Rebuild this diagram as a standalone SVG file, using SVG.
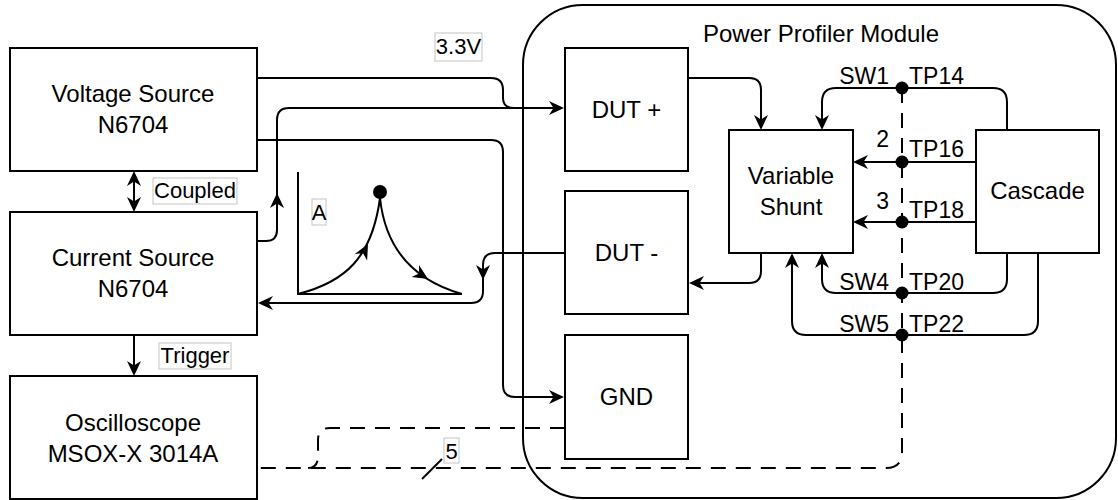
<svg xmlns="http://www.w3.org/2000/svg" xmlns:xlink="http://www.w3.org/1999/xlink" width="1118" height="500" viewBox="0 0 1118 500">
<style>
text{font-family:"Liberation Sans",Arial,sans-serif;fill:#000}
.box{fill:#fff;stroke:#000;stroke-width:2}
.t{font-size:24px;text-anchor:middle}
.lbl{font-size:23px}
.sm{font-size:22px;text-anchor:middle}
.lb{fill:#fff;stroke:#c4c4c4;stroke-width:1}
.ln{fill:none;stroke:#000;stroke-width:2}
.dash{fill:none;stroke:#000;stroke-width:2;stroke-dasharray:15 10}
</style>
<defs>
<path id="ah" d="M0,0 L-15,-7 L-10.5,0 L-15,7 Z" fill="#000"/>
</defs>
<rect width="1118" height="500" fill="#fff"/>

<g id="power-profiler-module">
<rect x="523" y="5" width="593" height="493" rx="60" ry="60" fill="none" stroke="#000" stroke-width="2"/>
<text class="t" x="821" y="42">Power Profiler Module</text>
</g>

<g id="voltage-source">
<rect class="box" x="10" y="48" width="247" height="123"/>
<text class="t" x="133" y="102">Voltage Source</text>
<text class="t" x="133" y="133">N6704</text>
</g>
<g id="current-source">
<rect class="box" x="10" y="212" width="247" height="123"/>
<text class="t" x="133" y="266">Current Source</text>
<text class="t" x="133" y="297">N6704</text>
</g>
<g id="oscilloscope">
<rect class="box" x="10" y="376" width="247" height="123"/>
<text class="t" x="133" y="431">Oscilloscope</text>
<text class="t" x="133" y="462">MSOX-X 3014A</text>
</g>
<g id="dut-plus">
<rect class="box" x="565" y="48" width="123" height="123"/>
<text class="t" x="626.5" y="118">DUT +</text>
</g>
<g id="dut-minus">
<rect class="box" x="565" y="191" width="123" height="123"/>
<text class="t" x="626.5" y="261">DUT -</text>
</g>
<g id="gnd">
<rect class="box" x="565" y="335" width="123" height="124"/>
<text class="t" x="626.5" y="405">GND</text>
</g>
<g id="variable-shunt">
<rect class="box" x="729" y="130" width="124" height="123"/>
<text class="t" x="791" y="184">Variable</text>
<text class="t" x="791" y="215">Shunt</text>
</g>
<g id="cascade">
<rect class="box" x="976" y="130" width="123" height="123"/>
<text class="t" x="1037.5" y="199">Cascade</text>
</g>

<g id="graph">
<path class="ln" d="M298,172 V294 H462"/>
<path class="ln" d="M298,294 C345,282 372,258 380,198"/>
<path class="ln" d="M380,198 C386,255 420,282 462,294"/>
<circle cx="380" cy="192" r="7" fill="#000"/>
<use xlink:href="#ah" transform="translate(368,244) rotate(-62)"/>
<use xlink:href="#ah" transform="translate(428,279) rotate(32)"/>
<rect class="lb" x="312" y="199" width="14" height="26"/>
<text class="sm" x="319" y="220">A</text>
</g>

<g id="connectors">
<!-- coupled -->
<path class="ln" d="M134,173 V210"/>
<use xlink:href="#ah" transform="translate(134,171) rotate(-90)"/>
<use xlink:href="#ah" transform="translate(134,212) rotate(90)"/>
<rect class="lb" x="153" y="178" width="84" height="26"/>
<text class="sm" x="195" y="198">Coupled</text>
<!-- trigger -->
<path class="ln" d="M134,335 V372"/>
<use xlink:href="#ah" transform="translate(134,376) rotate(90)"/>
<rect class="lb" x="159" y="343" width="72" height="26"/>
<text class="sm" x="195" y="363">Trigger</text>
<!-- voltage 3.3V to DUT+ -->
<path class="ln" d="M257,78 H491 Q503,78 503,90 V98 Q503,108 514,108"/>
<rect class="lb" x="435" y="33" width="47" height="28"/>
<text class="sm" x="458.5" y="54">3.3V</text>
<!-- current source to DUT+ -->
<path class="ln" d="M257,241 H266 Q277,241 277,230 V120 Q277,108 289,108 H560"/>
<use xlink:href="#ah" transform="translate(277,193) rotate(-90)"/>
<use xlink:href="#ah" transform="translate(564,108)"/>
<!-- voltage to GND -->
<path class="ln" d="M257,140 H491 Q503,140 503,152 V385 Q503,397 515,397 H560"/>
<use xlink:href="#ah" transform="translate(564,397)"/>
<!-- DUT- to current source -->
<path class="ln" d="M565,253 H495 Q483,253 483,265 V291 Q483,303 471,303 H262"/>
<use xlink:href="#ah" transform="translate(483,280) rotate(90)"/>
<use xlink:href="#ah" transform="translate(258,303) rotate(180)"/>
<!-- DUT+ to shunt -->
<path class="ln" d="M688,78 H749 Q761,78 761,90 V126"/>
<use xlink:href="#ah" transform="translate(761,130) rotate(90)"/>
<!-- SW1 -->
<path class="ln" d="M1007,130 V102 Q1007,88 993,88 H836 Q822,88 822,102 V126"/>
<use xlink:href="#ah" transform="translate(822,130) rotate(90)"/>
<!-- TP16 -->
<path class="ln" d="M976,162 H857"/>
<use xlink:href="#ah" transform="translate(853,162) rotate(180)"/>
<!-- TP18 -->
<path class="ln" d="M976,222 H857"/>
<use xlink:href="#ah" transform="translate(853,222) rotate(180)"/>
<!-- shunt to DUT- -->
<path class="ln" d="M761,253 V271 Q761,283 749,283 H693"/>
<use xlink:href="#ah" transform="translate(689,283) rotate(180)"/>
<!-- SW4 -->
<path class="ln" d="M1007,253 V279 Q1007,293 993,293 H836 Q822,293 822,279 V257"/>
<use xlink:href="#ah" transform="translate(822,253) rotate(-90)"/>
<!-- SW5 -->
<path class="ln" d="M1038,253 V321 Q1038,335 1024,335 H806 Q792,335 792,321 V257"/>
<use xlink:href="#ah" transform="translate(792,253) rotate(-90)"/>
<!-- dashed bus -->
<path class="dash" d="M902,88 V452 Q902,468 886,468 H257"/>
<path class="dash" d="M565,428 H330 Q318,428 318,440 V456 Q318,468 308,468"/>
<path class="ln" d="M422,479 L442,459"/>
<rect class="lb" x="444" y="438" width="15" height="25"/>
<text class="sm" x="451.5" y="459">5</text>
<!-- junction dots -->
<circle cx="902" cy="88" r="6.5" fill="#000"/>
<circle cx="902" cy="162" r="6.5" fill="#000"/>
<circle cx="902" cy="222" r="6.5" fill="#000"/>
<circle cx="902" cy="293" r="6.5" fill="#000"/>
<circle cx="902" cy="335" r="6.5" fill="#000"/>
<!-- labels -->
<text class="lbl" x="889" y="84" text-anchor="end">SW1</text>
<text class="lbl" x="909" y="84">TP14</text>
<text class="lbl" x="889" y="147" text-anchor="end">2</text>
<text class="lbl" x="909" y="157">TP16</text>
<text class="lbl" x="889" y="209" text-anchor="end">3</text>
<text class="lbl" x="909" y="218">TP18</text>
<text class="lbl" x="889" y="290" text-anchor="end">SW4</text>
<text class="lbl" x="909" y="290">TP20</text>
<text class="lbl" x="889" y="332" text-anchor="end">SW5</text>
<text class="lbl" x="909" y="332">TP22</text>
</g>
</svg>
